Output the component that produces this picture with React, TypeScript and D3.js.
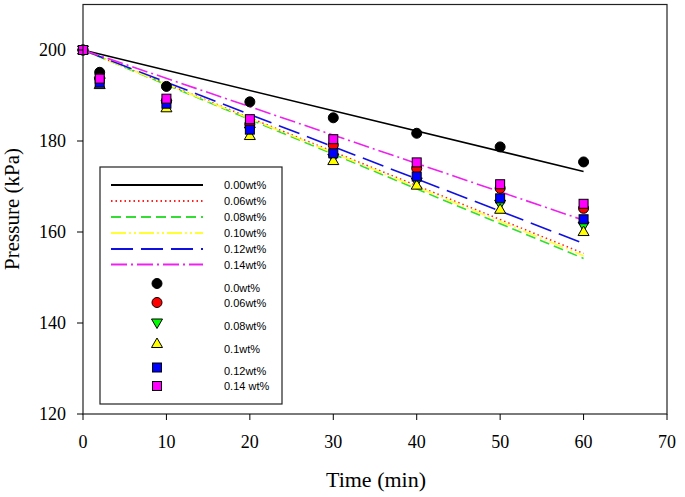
import React from "react";
import * as d3 from "d3";

const times = [0, 2, 10, 20, 30, 40, 50, 60];
const seriesLabels = ["0.0wt%", "0.06wt%", "0.08wt%", "0.1wt%", "0.12wt%", "0.14 wt%"];
const lineLabels = ["0.00wt%", "0.06wt%", "0.08wt%", "0.10wt%", "0.12wt%", "0.14wt%"];
const p000 = [200, 195.1, 192.0, 188.6, 185.1, 181.7, 178.7, 175.4];
const p006 = [200, 193.8, 188.8, 183.7, 179.1, 174.0, 169.6, 165.2];
const p008 = [200, 193.0, 188.0, 182.2, 176.2, 171.0, 166.1, 161.3];
const p010 = [200, 192.4, 187.3, 181.2, 175.7, 170.3, 165.0, 160.1];
const p012 = [200, 192.8, 188.2, 182.5, 177.3, 172.2, 167.4, 162.8];
const p014 = [200, 193.7, 189.3, 184.8, 180.4, 175.3, 170.5, 166.2];
const fitTimes = [0, 60];
const fit000 = [200, 173.3];
const fit006 = [200, 155.3];
const fit008 = [200, 154.2];
const fit010 = [200, 154.8];
const fit012 = [200, 157.5];
const fit014 = [200, 162.6];
const xTicks = [0, 10, 20, 30, 40, 50, 60, 70];
const yTicks = [120, 140, 160, 180, 200];

const pointSeries = [p000, p006, p008, p010, p012, p014];
const fitSeries = [fit000, fit006, fit008, fit010, fit012, fit014];
const markerFill = ["#000000", "#ff0000", "#00ff00", "#ffff00", "#0000ff", "#ff00ff"];
const markerShape = ["circle", "circle", "down", "up", "square", "square"];
const lineColor = ["#000000", "#ff2020", "#33dd33", "#ffff33", "#1010e0", "#ee22ee"];
const lineDash = ["none", "1.5,3", "10,5", "15,3,2,3,2,3", "22,8", "16,4,2,4"];
const lineWidth = [1.6, 1.5, 1.6, 1.6, 1.6, 1.6];

const W = 685, H = 497;
const L = 83, R = 667, T = 4.5, B = 414;

function Marker({ shape, x, y, fill }: { shape: string; x: number; y: number; fill: string }) {
  if (shape === "circle") return <circle cx={x} cy={y} r={5} fill={fill} stroke="#000" strokeWidth={1} />;
  if (shape === "square") return <rect x={x - 4.5} y={y - 4.5} width={9} height={9} fill={fill} stroke="#000" strokeWidth={1} />;
  if (shape === "up") return <path d={`M${x},${y - 5.5}L${x + 5.5},${y + 4}L${x - 5.5},${y + 4}Z`} fill={fill} stroke="#000" strokeWidth={1} />;
  return <path d={`M${x},${y + 5.5}L${x + 5.5},${y - 4}L${x - 5.5},${y - 4}Z`} fill={fill} stroke="#000" strokeWidth={1} />;
}

export default function App() {
  const x = d3.scaleLinear().domain([0, 70]).range([L, R]);
  const y = d3.scaleLinear().domain([120, 210]).range([B, T]);
  const line = d3.line<number>().x((_, i) => x(fitTimes[i])).y((d) => y(d));

  const lineRowY = [185, 201, 217, 233, 249, 264.5];
  const markRowY = [283.5, 302.5, 323, 343.5, 367.5, 386];
  const markTextY = [288, 302.5, 325.5, 349, 371, 386];

  return (
    <svg width={W} height={H} style={{ position: "absolute", left: 0, top: 0, background: "#fff" }}>
      <rect x={0} y={0} width={W} height={H} fill="#fff" />
      {fitSeries.map((s, k) => (
        <path key={"l" + k} d={line(s) || ""} fill="none" stroke={lineColor[k]} strokeWidth={lineWidth[k]}
          strokeDasharray={lineDash[k] === "none" ? undefined : lineDash[k]} />
      ))}
      {pointSeries.map((s, k) => (
        <g key={"p" + k}>
          {s.map((v, i) => (
            <Marker key={i} shape={markerShape[k]} x={x(times[i])} y={y(v)} fill={markerFill[k]} />
          ))}
        </g>
      ))}
      <rect x={L} y={T} width={R - L} height={B - T} fill="none" stroke="#222" strokeWidth={1.2} />
      {xTicks.map((t) => (
        <g key={"xt" + t}>
          <line x1={x(t)} x2={x(t)} y1={B} y2={B + 6} stroke="#000" strokeWidth={1} />
          <text x={x(t)} y={448} textAnchor="middle" fontFamily="Liberation Serif, Times New Roman, serif" fontSize={18}>{t}</text>
        </g>
      ))}
      {yTicks.map((t) => (
        <g key={"yt" + t}>
          <line x1={L - 6} x2={L} y1={y(t)} y2={y(t)} stroke="#000" strokeWidth={1} />
          <text x={66} y={y(t) + 6} textAnchor="end" fontFamily="Liberation Serif, Times New Roman, serif" fontSize={18}>{t}</text>
        </g>
      ))}
      <text x={376} y={487} textAnchor="middle" fontFamily="Liberation Serif, Times New Roman, serif" fontSize={22}>Time (min)</text>
      <text transform={`translate(18.5,209) rotate(-90)`} textAnchor="middle" fontFamily="Liberation Serif, Times New Roman, serif" fontSize={21}>Pressure (kPa)</text>
      <rect x={100} y={167} width={182} height={237} fill="#fff" stroke="#222" strokeWidth={1.2} />
      {lineLabels.map((lab, k) => (
        <g key={"ll" + k}>
          <line x1={111} x2={203} y1={lineRowY[k]} y2={lineRowY[k]} stroke={lineColor[k]} strokeWidth={lineWidth[k] + 0.3}
            strokeDasharray={lineDash[k] === "none" ? undefined : lineDash[k]} />
          <text x={224} y={lineRowY[k] + 4} fontFamily="Liberation Sans, Arial, sans-serif" fontSize={11}>{lab}</text>
        </g>
      ))}
      {seriesLabels.map((lab, k) => (
        <g key={"ml" + k}>
          <Marker shape={markerShape[k]} x={157} y={markRowY[k]} fill={markerFill[k]} />
          <text x={224} y={markTextY[k] + 4} fontFamily="Liberation Sans, Arial, sans-serif" fontSize={11}>{lab}</text>
        </g>
      ))}
    </svg>
  );
}
